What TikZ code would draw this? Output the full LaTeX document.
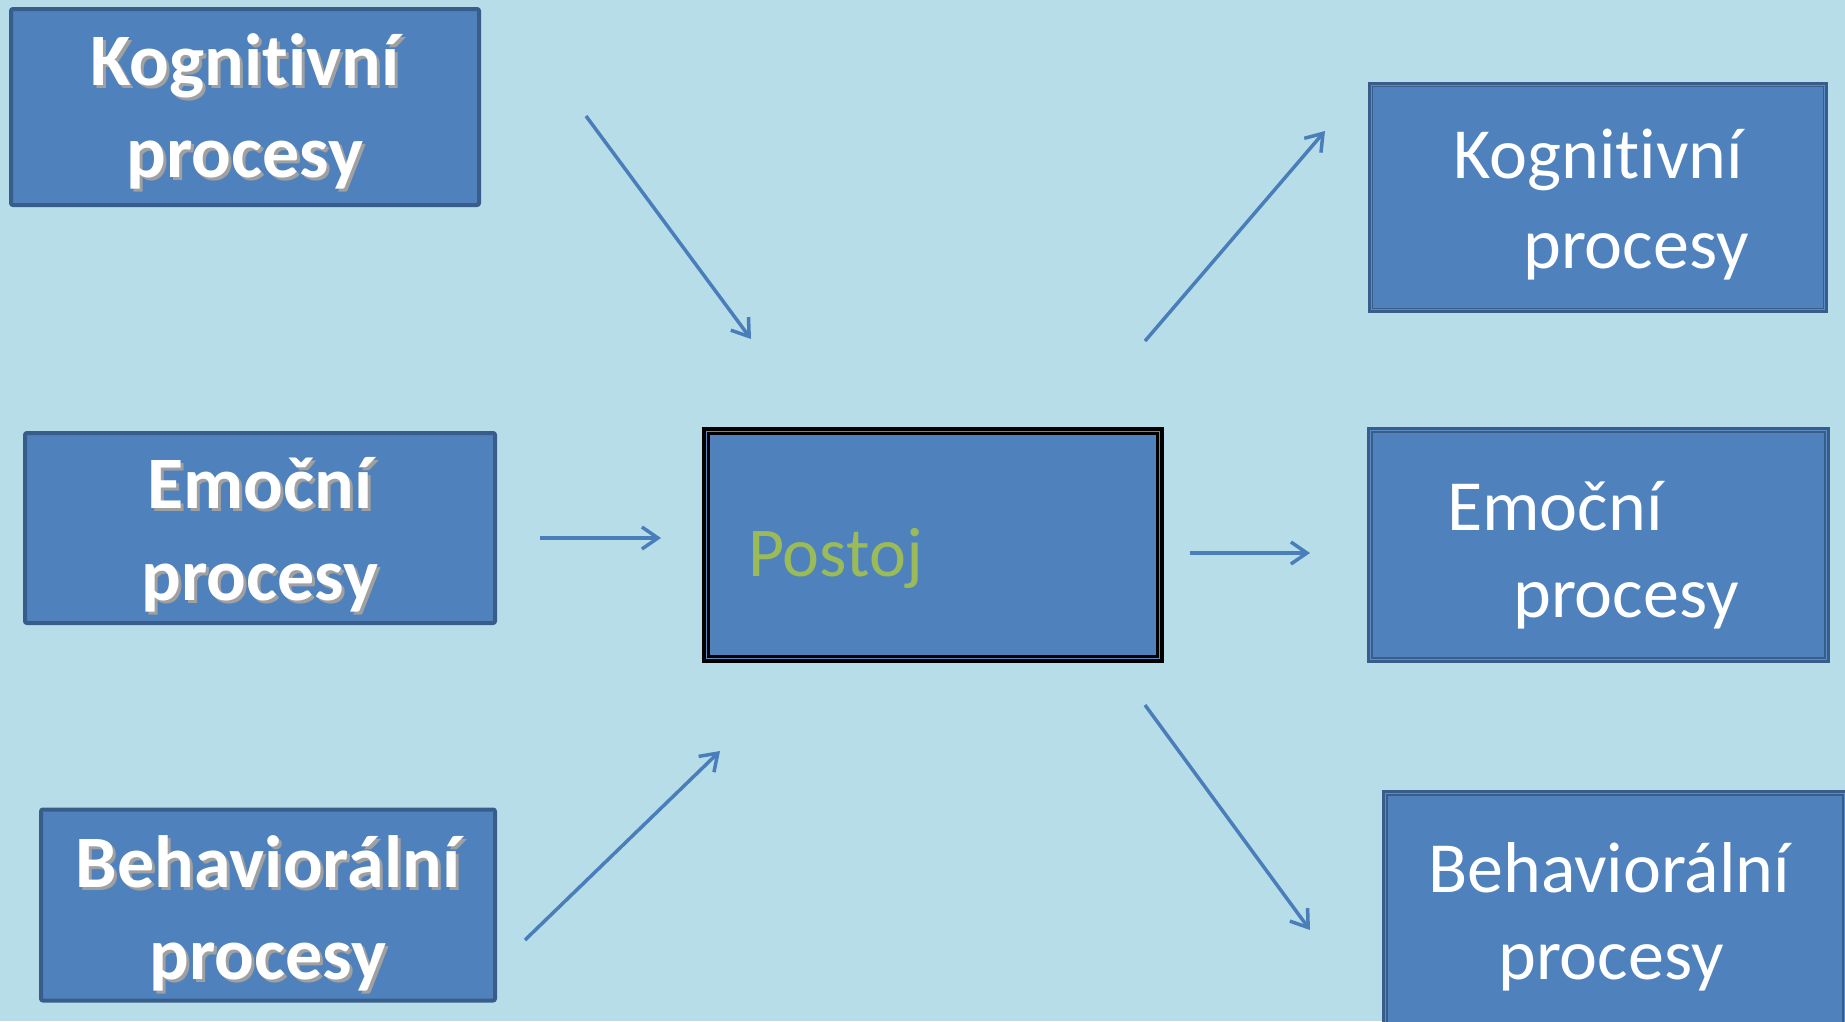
\documentclass[tikz,border=0pt]{standalone}
\usepackage{fontspec}
\setmainfont{Carlito}[Ligatures=NoCommon]
\usetikzlibrary{arrows.meta}

\definecolor{bgblue}{HTML}{B7DDE8}
\definecolor{boxblue}{HTML}{4F81BD}
\definecolor{edgeblue}{HTML}{385D8A}
\definecolor{rimblue}{HTML}{5B8CC6}
\definecolor{arrowblue}{HTML}{4A7EBB}
\definecolor{postojgreen}{HTML}{9BBB59}
\definecolor{shadowgray}{HTML}{A0A0A0}

\tikzset{
  inbox/.style={draw=edgeblue, fill=boxblue, line width=4pt, rounded corners=2pt, inner sep=0pt},
  outbox/.style={draw=edgeblue, fill=boxblue, line width=5pt, inner sep=0pt},
  rimline/.style={draw=rimblue, line width=1.3pt},
  thinline/.style={draw=edgeblue, line width=1.2pt},
  plaintxt/.style={font=\fontsize{72}{90}\selectfont, text=white, inner sep=0pt, anchor=base west},
  boldtxt/.style={font=\fontsize{74}{90}\selectfont\bfseries, text=white, inner sep=0pt, anchor=base},
  boldshadow/.style={boldtxt, text=shadowgray},
  flow/.style={draw=arrowblue, line width=3.5pt, -{Straight Barb[length=16pt,width=22pt]}},
}

\begin{document}
\begin{tikzpicture}[x=1pt, y=-1pt]
  \useasboundingbox (0,0) rectangle (1845,1021);
  \fill[bgblue] (0,0) rectangle (1845,1021);
  \clip (0,0) rectangle (1845,1021);

  % left side
  \node[inbox, minimum width=468pt, minimum height=196pt] (kin) at (245,107) {};
  \node[inbox, minimum width=470pt, minimum height=190pt] (ein) at (260,528) {};
  \node[inbox, minimum width=454pt, minimum height=191pt] (bin) at (268,905) {};

  \node[boldshadow] (kin-as) at (248,88) {Kognitivní};
  \node[boldtxt] (kin-a) at (245,85) {Kognitivní};
  \node[boldshadow] (kin-bs) at (248,180) {procesy};
  \node[boldtxt] (kin-b) at (245,177) {procesy};

  \node[boldshadow] (ein-as) at (263,511) {Emoční};
  \node[boldtxt] (ein-a) at (260,508) {Emoční};
  \node[boldshadow] (ein-bs) at (263,603) {procesy};
  \node[boldtxt] (ein-b) at (260,600) {procesy};

  \node[boldshadow] (bin-as) at (271,890) {Behaviorální};
  \node[boldtxt] (bin-a) at (268,887) {Behaviorální};
  \node[boldshadow] (bin-bs) at (271,982) {procesy};
  \node[boldtxt] (bin-b) at (268,979) {procesy};

  % middle
  \node[draw=black, fill=boxblue, line width=7pt, inner sep=0pt,
        minimum width=455pt, minimum height=229pt] (postoj) at (933,545) {};
  \draw[rimline] ([shift={(4.5,4.5)}]postoj.north west) rectangle ([shift={(-4.5,-4.5)}]postoj.south east);
  \draw[black, line width=1.3pt] ([shift={(7,7)}]postoj.north west) rectangle ([shift={(-7,-7)}]postoj.south east);
  \node[plaintxt, font=\fontsize{70}{90}\selectfont, text=postojgreen] (postoj-t) at (748,576) {Postoj};

  % right side
  \node[outbox, minimum width=455pt, minimum height=226pt] (kout) at (1598,197.5) {};
  \draw[rimline, line width=1pt] ([shift={(3.5,3.5)}]kout.north west) rectangle ([shift={(-3.5,-3.5)}]kout.south east);

  \node[outbox, minimum width=458pt, minimum height=231pt] (eout) at (1598.5,545) {};
  \draw[rimline] ([shift={(3.5,3.5)}]eout.north west) rectangle ([shift={(-3.5,-3.5)}]eout.south east);
  \draw[thinline] ([shift={(5.5,5.5)}]eout.north west) rectangle ([shift={(-5.5,-5.5)}]eout.south east);

  \node[outbox, minimum width=461pt, minimum height=235pt] (bout) at (1615,910) {};
  \draw[rimline] ([shift={(3.5,3.5)}]bout.north west) rectangle ([shift={(-3.5,-3.5)}]bout.south east);
  \draw[thinline] ([shift={(5.5,5.5)}]bout.north west) rectangle ([shift={(-5.5,-5.5)}]bout.south east);

  \node[plaintxt] (kout-a) at (1453,178) {Kognitivní};
  \node[plaintxt] (kout-b) at (1523,268) {procesy};
  \node[plaintxt] (eout-a) at (1447,530) {Emoční};
  \node[plaintxt] (eout-b) at (1513,617) {procesy};
  \node[plaintxt] (bout-a) at (1428,892) {Behaviorální};
  \node[plaintxt] (bout-b) at (1498,979) {procesy};

  % arrows
  \coordinate (k-in-s) at (586,116);
  \coordinate (k-in-e) at (751,339);
  \coordinate (e-in-s) at (540,538);
  \coordinate (e-in-e) at (661,538);
  \coordinate (b-in-s) at (525,940);
  \coordinate (b-in-e) at (720,751);
  \coordinate (k-out-s) at (1145,341);
  \coordinate (k-out-e) at (1325,131);
  \coordinate (e-out-s) at (1190,553);
  \coordinate (e-out-e) at (1310,553);
  \coordinate (b-out-s) at (1145,705);
  \coordinate (b-out-e) at (1310,930);

  \draw[flow] (k-in-s) -- (k-in-e);
  \draw[flow] (e-in-s) -- (e-in-e);
  \draw[flow] (b-in-s) -- (b-in-e);
  \draw[flow] (k-out-s) -- (k-out-e);
  \draw[flow] (e-out-s) -- (e-out-e);
  \draw[flow] (b-out-s) -- (b-out-e);
\end{tikzpicture}
\end{document}
